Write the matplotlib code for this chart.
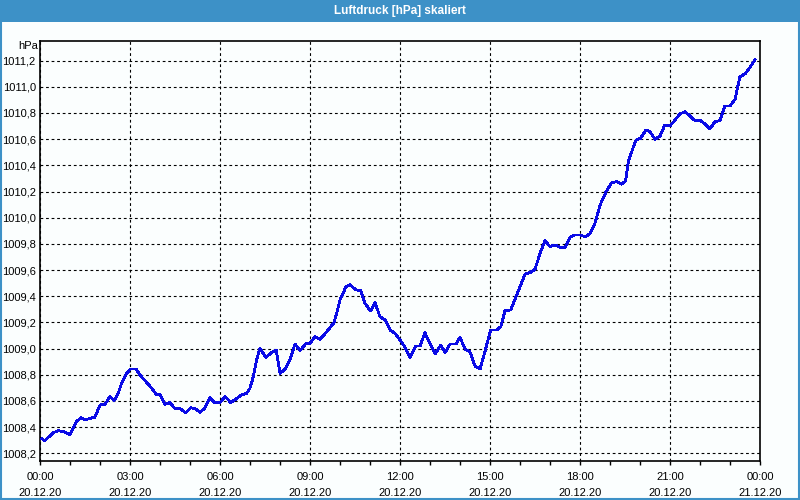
import matplotlib
matplotlib.use("Agg")
import matplotlib.pyplot as plt
from matplotlib.patches import Rectangle
from matplotlib.ticker import MultipleLocator, FixedLocator

plt.rcParams['font.family'] = ['Liberation Sans', 'DejaVu Sans']

# Zeit in Stunden ab 20.12.20 00:00, Luftdruck in hPa
hours = [0.06, 0.16, 0.28, 0.44, 0.61, 0.78, 0.89, 1.00, 1.11, 1.22, 1.36, 1.50,
         1.67, 1.83, 2.00, 2.17, 2.33, 2.47, 2.61, 2.72, 2.87, 3.02, 3.20, 3.33,
         3.56, 3.72, 3.87, 4.00, 4.17, 4.33, 4.50, 4.67, 4.86, 5.02, 5.17, 5.33,
         5.50, 5.67, 5.81, 6.00, 6.17, 6.36, 6.56, 6.72, 6.89, 7.00, 7.11, 7.22,
         7.33, 7.53, 7.72, 7.87, 8.00, 8.17, 8.33, 8.50, 8.67, 8.87, 9.00, 9.17,
         9.33, 9.56, 9.80, 9.89, 10.00, 10.09, 10.20, 10.33, 10.53, 10.69, 10.83, 11.02,
         11.17, 11.33, 11.50, 11.67, 11.83, 12.00, 12.17, 12.33, 12.53, 12.67, 12.83, 13.00,
         13.17, 13.36, 13.50, 13.67, 13.87, 14.00, 14.17, 14.33, 14.50, 14.67, 14.83, 15.02,
         15.22, 15.36, 15.50, 15.69, 15.89, 16.17, 16.33, 16.50, 16.67, 16.83, 17.00, 17.17,
         17.33, 17.50, 17.67, 17.83, 18.00, 18.17, 18.33, 18.50, 18.67, 18.87, 19.06, 19.22,
         19.39, 19.52, 19.61, 19.76, 19.87, 20.02, 20.20, 20.33, 20.50, 20.67, 20.83, 21.00,
         21.17, 21.33, 21.50, 21.67, 21.83, 22.02, 22.20, 22.33, 22.50, 22.67, 22.83, 23.00,
         23.17, 23.33, 23.50, 23.67, 23.83]
pressure = [1008.312, 1008.296, 1008.322, 1008.357, 1008.373, 1008.365, 1008.353, 1008.340,
            1008.391, 1008.442, 1008.472, 1008.455, 1008.467, 1008.475, 1008.569, 1008.574,
            1008.633, 1008.602, 1008.659, 1008.735, 1008.806, 1008.844, 1008.844, 1008.798,
            1008.740, 1008.697, 1008.651, 1008.648, 1008.574, 1008.587, 1008.541, 1008.541,
            1008.510, 1008.548, 1008.541, 1008.513, 1008.546, 1008.626, 1008.587, 1008.587,
            1008.633, 1008.587, 1008.620, 1008.646, 1008.659, 1008.697, 1008.785, 1008.913,
            1009.002, 1008.934, 1008.969, 1008.989, 1008.811, 1008.842, 1008.913, 1009.035,
            1008.984, 1009.041, 1009.041, 1009.091, 1009.071, 1009.129, 1009.198, 1009.270,
            1009.371, 1009.417, 1009.473, 1009.488, 1009.448, 1009.443, 1009.346, 1009.287,
            1009.351, 1009.244, 1009.219, 1009.142, 1009.117, 1009.066, 1009.010, 1008.931,
            1009.020, 1009.020, 1009.122, 1009.035, 1008.959, 1009.028, 1008.969, 1009.035,
            1009.035, 1009.086, 1008.995, 1008.976, 1008.867, 1008.844, 1008.976, 1009.142,
            1009.142, 1009.167, 1009.290, 1009.295, 1009.410, 1009.570, 1009.580, 1009.606,
            1009.728, 1009.825, 1009.779, 1009.792, 1009.774, 1009.774, 1009.851, 1009.868,
            1009.868, 1009.855, 1009.876, 1009.958, 1010.097, 1010.199, 1010.268, 1010.275,
            1010.256, 1010.281, 1010.428, 1010.528, 1010.594, 1010.607, 1010.670, 1010.657,
            1010.599, 1010.625, 1010.709, 1010.701, 1010.747, 1010.793, 1010.810, 1010.777,
            1010.742, 1010.742, 1010.709, 1010.678, 1010.734, 1010.742, 1010.854, 1010.854,
            1010.905, 1011.078, 1011.098, 1011.150, 1011.205]

tick_hours = [0, 3, 6, 9, 12, 15, 18, 21, 24]
tick_labels = ["00:00\n20.12.20", "03:00\n20.12.20", "06:00\n20.12.20", "09:00\n20.12.20",
               "12:00\n20.12.20", "15:00\n20.12.20", "18:00\n20.12.20", "21:00\n20.12.20",
               "00:00\n21.12.20"]
y_ticks = [1008.2, 1008.4, 1008.6, 1008.8, 1009.0, 1009.2, 1009.4, 1009.6, 1009.8,
           1010.0, 1010.2, 1010.4, 1010.6, 1010.8, 1011.0, 1011.2]

bg = "#fbfefe"
bar = "#3d91c7"

fig = plt.figure(figsize=(8, 5), dpi=100, facecolor=bg)
# title bar + window border
fig.patches.append(Rectangle((0, 0.956), 1, 0.044, transform=fig.transFigure,
                             facecolor=bar, edgecolor="none", zorder=0))
fig.patches.append(Rectangle((0.001, 0.002), 0.998, 0.996, transform=fig.transFigure,
                             facecolor="none", edgecolor=bar, lw=1.5, zorder=1))
fig.text(0.5, 0.978, "Luftdruck [hPa] skaliert", color="white", fontsize=8.5,
         fontweight="bold", ha="center", va="center")

ax = fig.add_axes([0.05, 0.078, 0.9, 0.84], facecolor=bg)
ax.plot(hours, pressure, color="#0a0ae6", lw=1.3, antialiased=False, zorder=3)

ax.set_xlim(0, 24)
ax.set_ylim(1008.141, 1011.35)
ax.xaxis.set_major_locator(FixedLocator(tick_hours))
ax.xaxis.set_minor_locator(MultipleLocator(1))
ax.set_xticklabels(tick_labels, fontsize=8, linespacing=1.75)
ax.set_yticks(y_ticks)
ax.set_yticklabels([f"{v:.1f}".replace(".", ",") for v in y_ticks], fontsize=8)
ax.tick_params(axis="x", which="both", direction="out", length=3, width=1, pad=5)
ax.tick_params(axis="y", length=0, pad=3)
ax.grid(True, which="major", color="black", lw=0.8, linestyle=(0, (2.5, 2.5)))
for s in ax.spines.values():
    s.set_linewidth(1.2)
ax.text(-0.003, 1.0, "hPa", transform=ax.transAxes, fontsize=8, ha="right", va="top")

fig.savefig("out.png", dpi=100, facecolor=bg)
